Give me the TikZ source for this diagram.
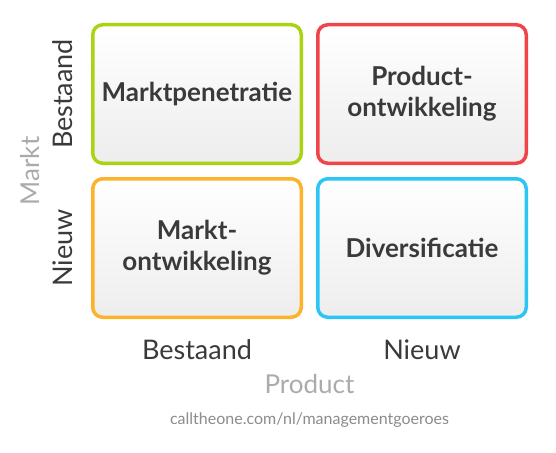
\documentclass[tikz,border=0pt]{standalone}
\usepackage{fontspec}
\setmainfont{Lato}
\usetikzlibrary{calc,positioning}
\definecolor{LimeGreen}{HTML}{A8D414}
\definecolor{CoralRed}{HTML}{F04449}
\definecolor{Amber}{HTML}{FDB22B}
\definecolor{SkyCyan}{HTML}{2BC6F5}
\definecolor{InkGrey}{HTML}{3A3A3A}
\definecolor{AxisGrey}{HTML}{ABABAB}
\definecolor{UrlGrey}{HTML}{8C8C8C}

\begin{document}
\begin{tikzpicture}[node distance=12pt and 13pt,
    quad/.style={rounded corners=10pt,line width=3.5pt,minimum width=208.5pt,minimum height=138.5pt,
                 align=center,font=\fontsize{26}{31}\selectfont\bfseries,text=InkGrey,
                 top color=white,bottom color=black!7},
    axislab/.style={font=\fontsize{27}{31}\selectfont,text=InkGrey},
    axistitle/.style={font=\fontsize{26}{30}\selectfont,text=AxisGrey}]
    \useasboundingbox[fill=white] (0,0) rectangle (556pt,-452pt);
    \node[quad,draw=LimeGreen] (pen) at (197pt,-94pt) {Marktpenetratie};
    \node[quad,draw=CoralRed,right=of pen] (pdev) {Product-\\ontwikkeling};
    \node[quad,draw=Amber,below=of pen] (mdev) {Markt-\\ontwikkeling};
    \node[quad,draw=SkyCyan,right=of mdev] (div) {Diversificatie};
    % axes
    \node[axislab,rotate=90] (mold) at ($(pen.west)+(-28pt,0)$) {Bestaand};
    \node[axislab,rotate=90] (mnew) at ($(mdev.west)+(-28pt,0)$) {Nieuw};
    \node[axistitle,rotate=90] (markt) at ($(pen.west)!.5!(mdev.west)+(-61pt,0)$) {Markt};
    \node[axislab] (pold) at ($(mdev.south)+(0,-31pt)$) {Bestaand};
    \node[axislab] (pnew) at ($(div.south)+(0,-31pt)$) {Nieuw};
    \node[axistitle] (product) at ($(pold)!.5!(pnew)+(0,-34pt)$) {Product};
    \node[font=\fontsize{16}{19}\selectfont,text=UrlGrey,below=12pt of product] (url) {calltheone.com/nl/managementgoeroes};
\end{tikzpicture}
\end{document}
